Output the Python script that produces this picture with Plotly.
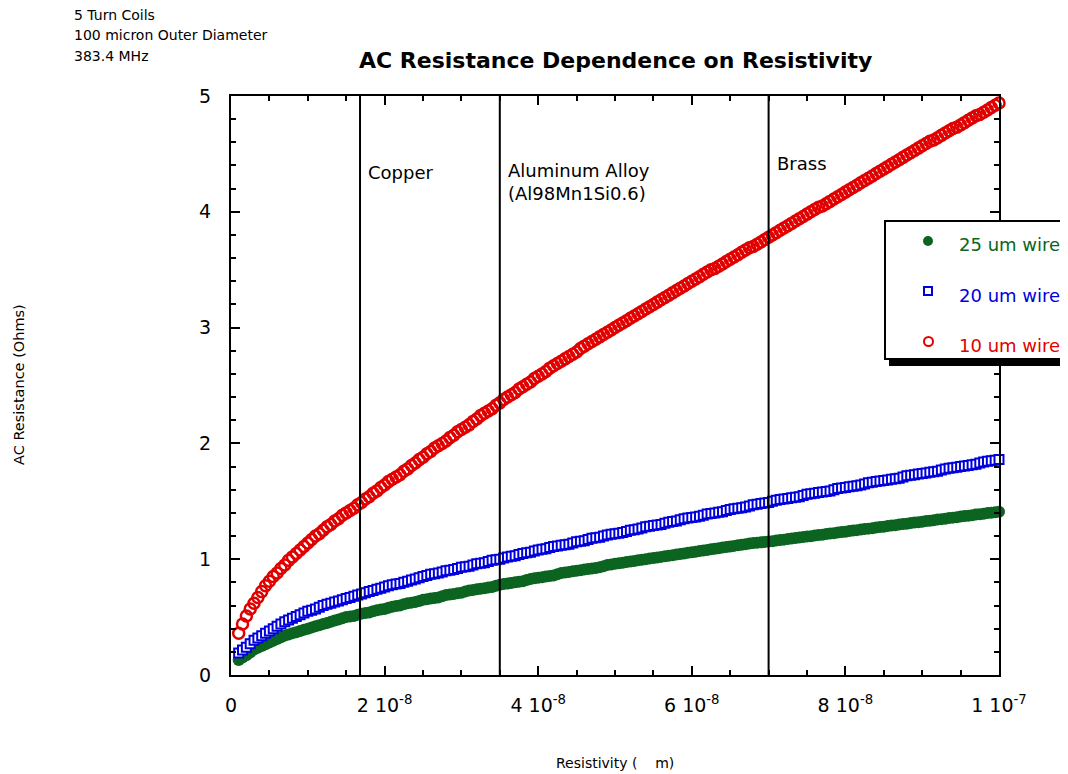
import plotly.graph_objects as go

# ---------------- data (resistivity in units of 1e-8 ohm*m, step 0.05 from 0.10 to 10.0) ----------------
resistivity_e8 = [round(0.10 + 0.05 * i, 2) for i in range(199)]

r_10um = [0.36, 0.44, 0.51, 0.57, 0.62, 0.67, 0.72, 0.77, 0.81, 0.85,
          0.88, 0.92, 0.95, 0.99, 1.02, 1.05, 1.08, 1.11, 1.14, 1.17,
          1.20, 1.22, 1.25, 1.28, 1.30, 1.33, 1.35, 1.38, 1.40, 1.42,
          1.44, 1.47, 1.49, 1.52, 1.54, 1.57, 1.59, 1.62, 1.64, 1.67,
          1.69, 1.71, 1.73, 1.76, 1.78, 1.81, 1.83, 1.86, 1.88, 1.91,
          1.93, 1.96, 1.98, 2.00, 2.02, 2.05, 2.07, 2.10, 2.12, 2.14,
          2.16, 2.19, 2.21, 2.24, 2.26, 2.28, 2.30, 2.33, 2.35, 2.38,
          2.40, 2.42, 2.44, 2.47, 2.49, 2.51, 2.53, 2.56, 2.58, 2.60,
          2.62, 2.65, 2.67, 2.69, 2.71, 2.73, 2.75, 2.77, 2.79, 2.82,
          2.84, 2.86, 2.88, 2.90, 2.92, 2.94, 2.96, 2.98, 3.00, 3.02,
          3.04, 3.06, 3.08, 3.10, 3.12, 3.14, 3.16, 3.18, 3.20, 3.22,
          3.24, 3.26, 3.28, 3.30, 3.32, 3.34, 3.36, 3.38, 3.40, 3.42,
          3.44, 3.46, 3.48, 3.50, 3.51, 3.53, 3.55, 3.57, 3.59, 3.61,
          3.63, 3.65, 3.67, 3.69, 3.70, 3.72, 3.74, 3.76, 3.78, 3.80,
          3.82, 3.84, 3.86, 3.88, 3.90, 3.92, 3.94, 3.96, 3.98, 4.00,
          4.02, 4.04, 4.05, 4.07, 4.09, 4.11, 4.13, 4.15, 4.17, 4.19,
          4.21, 4.23, 4.25, 4.27, 4.29, 4.31, 4.33, 4.35, 4.37, 4.39,
          4.41, 4.43, 4.45, 4.47, 4.49, 4.51, 4.53, 4.55, 4.57, 4.59,
          4.61, 4.62, 4.64, 4.66, 4.68, 4.70, 4.72, 4.73, 4.75, 4.77,
          4.79, 4.81, 4.83, 4.84, 4.86, 4.88, 4.90, 4.92, 4.94]

r_20um = [0.19, 0.215, 0.24, 0.27, 0.30, 0.32, 0.34, 0.36, 0.38, 0.40,
          0.42, 0.44, 0.46, 0.475, 0.49, 0.505, 0.52, 0.535, 0.55, 0.56,
          0.57, 0.585, 0.60, 0.61, 0.62, 0.63, 0.64, 0.65, 0.66, 0.67,
          0.68, 0.69, 0.70, 0.71, 0.72, 0.73, 0.74, 0.75, 0.76, 0.77,
          0.78, 0.785, 0.79, 0.80, 0.81, 0.82, 0.83, 0.84, 0.85, 0.86,
          0.87, 0.875, 0.88, 0.89, 0.90, 0.905, 0.91, 0.92, 0.93, 0.935,
          0.94, 0.95, 0.96, 0.965, 0.97, 0.98, 0.99, 0.995, 1.00, 1.01,
          1.02, 1.025, 1.03, 1.04, 1.05, 1.055, 1.06, 1.07, 1.08, 1.085,
          1.09, 1.10, 1.11, 1.115, 1.12, 1.125, 1.13, 1.14, 1.15, 1.155,
          1.16, 1.17, 1.18, 1.185, 1.19, 1.20, 1.21, 1.215, 1.22, 1.225,
          1.23, 1.24, 1.25, 1.255, 1.26, 1.27, 1.28, 1.285, 1.29, 1.295,
          1.30, 1.31, 1.32, 1.325, 1.33, 1.34, 1.35, 1.355, 1.36, 1.365,
          1.37, 1.38, 1.39, 1.395, 1.40, 1.405, 1.41, 1.42, 1.43, 1.435,
          1.44, 1.445, 1.45, 1.46, 1.47, 1.475, 1.48, 1.485, 1.49, 1.50,
          1.51, 1.515, 1.52, 1.525, 1.53, 1.535, 1.54, 1.55, 1.56, 1.565,
          1.57, 1.575, 1.58, 1.585, 1.59, 1.60, 1.61, 1.615, 1.62, 1.625,
          1.63, 1.635, 1.64, 1.65, 1.66, 1.665, 1.67, 1.675, 1.68, 1.685,
          1.69, 1.695, 1.70, 1.71, 1.72, 1.725, 1.73, 1.735, 1.74, 1.745,
          1.75, 1.755, 1.76, 1.77, 1.78, 1.785, 1.79, 1.795, 1.80, 1.805,
          1.81, 1.815, 1.82, 1.83, 1.84, 1.845, 1.85, 1.855, 1.86]

r_25um = [0.13, 0.15, 0.17, 0.195, 0.22, 0.235, 0.25, 0.265, 0.28, 0.295,
          0.31, 0.325, 0.34, 0.35, 0.36, 0.37, 0.38, 0.39, 0.40, 0.41,
          0.42, 0.43, 0.44, 0.45, 0.46, 0.47, 0.48, 0.49, 0.50, 0.505,
          0.51, 0.52, 0.53, 0.535, 0.54, 0.55, 0.56, 0.565, 0.57, 0.58,
          0.59, 0.595, 0.60, 0.61, 0.62, 0.625, 0.63, 0.64, 0.65, 0.655,
          0.66, 0.665, 0.67, 0.68, 0.69, 0.695, 0.70, 0.705, 0.71, 0.72,
          0.73, 0.735, 0.74, 0.745, 0.75, 0.755, 0.76, 0.77, 0.78, 0.785,
          0.79, 0.795, 0.80, 0.805, 0.81, 0.82, 0.83, 0.835, 0.84, 0.845,
          0.85, 0.855, 0.86, 0.87, 0.88, 0.885, 0.89, 0.895, 0.90, 0.905,
          0.91, 0.915, 0.92, 0.925, 0.93, 0.94, 0.95, 0.955, 0.96, 0.965,
          0.97, 0.975, 0.98, 0.985, 0.99, 0.995, 1.00, 1.005, 1.01, 1.015,
          1.02, 1.025, 1.03, 1.035, 1.04, 1.045, 1.05, 1.055, 1.06, 1.065,
          1.07, 1.075, 1.08, 1.085, 1.09, 1.095, 1.10, 1.105, 1.11, 1.115,
          1.12, 1.125, 1.13, 1.135, 1.14, 1.143, 1.146, 1.149, 1.152, 1.156,
          1.161, 1.165, 1.169, 1.174, 1.178, 1.182, 1.187, 1.191, 1.195, 1.199,
          1.204, 1.208, 1.212, 1.217, 1.221, 1.225, 1.230, 1.234, 1.238, 1.243,
          1.247, 1.251, 1.256, 1.260, 1.264, 1.268, 1.273, 1.277, 1.281, 1.286,
          1.290, 1.294, 1.299, 1.303, 1.307, 1.312, 1.316, 1.320, 1.324, 1.329,
          1.333, 1.337, 1.342, 1.346, 1.350, 1.355, 1.359, 1.363, 1.368, 1.372,
          1.376, 1.380, 1.385, 1.389, 1.393, 1.398, 1.402, 1.406, 1.41]

materials = ["Copper", "Aluminum Alloy<br>(Al98Mn1Si0.6)", "Brass"]
material_resistivity = [1.68e-8, 3.5e-8, 7.0e-8]

series_names = ["25 um wire", "20 um wire", "10 um wire"]
x_tick_vals = [0, 2e-8, 4e-8, 6e-8, 8e-8, 1e-7]
x_tick_text = ["0", "2 10<sup>-8</sup>", "4 10<sup>-8</sup>", "6 10<sup>-8</sup>",
               "8 10<sup>-8</sup>", "1 10<sup>-7</sup>"]
y_tick_vals = [0, 1, 2, 3, 4, 5]

info_lines = ["5 Turn Coils", "100 micron Outer Diameter", "383.4 MHz"]

# ---------------- layout geometry ----------------
W, H = 1068, 774
OFF = 8  # page body margin of the browser
# reference plot area (screen pixels): x 231..999, y 96..675
RL, RR, RT, RB = 231, 999, 96, 675
PW, PH = RR - RL, RB - RT
L = RL - OFF
T = RT - OFF
R = W - (RR - OFF)
B = H - (RB - OFF)

def px(x):
    return (x - RL) / PW

def py(y):
    return (RB - y) / PH

GREEN = "#0b6420"
BLUE = "#0000dc"
RED = "#e00000"
FONT = "DejaVu Sans"

x_vals = [v * 1e-8 for v in resistivity_e8]

fig = go.Figure()
fig.add_trace(go.Scatter(x=x_vals, y=r_25um, mode="markers", name=series_names[0],
                         marker=dict(symbol="circle", size=12, color=GREEN,
                                     line=dict(width=0)), cliponaxis=False))
fig.add_trace(go.Scatter(x=x_vals, y=r_20um, mode="markers", name=series_names[1],
                         marker=dict(symbol="square", size=9, color="white",
                                     line=dict(width=2, color=BLUE)), cliponaxis=False))
fig.add_trace(go.Scatter(x=x_vals, y=r_10um, mode="markers", name=series_names[2],
                         marker=dict(symbol="circle-open", size=11, color=RED,
                                     line=dict(width=2.5, color=RED)), cliponaxis=False))

shapes = []
annotations = []

# material vertical lines and labels
label_y = [172, 182, 163]
for name, rho, ly in zip(materials, material_resistivity, label_y):
    shapes.append(dict(type="line", xref="x", yref="paper", x0=rho, x1=rho, y0=0, y1=1,
                       line=dict(color="black", width=2), layer="above"))
    annotations.append(dict(text=name, xref="x", yref="paper", x=rho, y=py(ly),
                            xanchor="left", yanchor="middle", xshift=6, showarrow=False,
                            align="left", font=dict(family=FONT, size=18, color="black")))

# legend (manual, with drop shadow)
shapes.append(dict(type="rect", xref="paper", yref="paper", x0=px(889), x1=px(1090),
                   y0=py(366), y1=py(226), fillcolor="black", line=dict(width=0), layer="above"))
shapes.append(dict(type="rect", xref="paper", yref="paper", x0=px(885), x1=px(1090),
                   y0=py(359), y1=py(221), fillcolor="white",
                   line=dict(width=2, color="black"), layer="above"))
shapes.append(dict(type="circle", xref="paper", yref="paper", x0=px(923), x1=px(933),
                   y0=py(246), y1=py(236), fillcolor=GREEN, line=dict(width=0), layer="above"))
shapes.append(dict(type="rect", xref="paper", yref="paper", x0=px(924), x1=px(932),
                   y0=py(295), y1=py(287), fillcolor="white",
                   line=dict(width=2, color=BLUE), layer="above"))
shapes.append(dict(type="circle", xref="paper", yref="paper", x0=px(924), x1=px(933),
                   y0=py(346), y1=py(337), fillcolor="white",
                   line=dict(width=2, color=RED), layer="above"))
for name, col, ly in zip(series_names, [GREEN, BLUE, RED], [244, 295, 345]):
    annotations.append(dict(text=name, xref="paper", yref="paper", x=px(957), y=py(ly),
                            xanchor="left", yanchor="middle", showarrow=False,
                            font=dict(family=FONT, size=18, color=col)))

# title, axis titles, info text
annotations.append(dict(text="<b>AC Resistance Dependence on Resistivity</b>", xref="paper",
                        yref="paper", x=px(615), y=py(60), xanchor="center", yanchor="middle",
                        showarrow=False, font=dict(family=FONT, size=22, color="black")))
annotations.append(dict(text="Resistivity (\u00a0\u00a0\u00a0\u00a0m)", xref="paper", yref="paper",
                        x=px(615), y=py(763), xanchor="center", yanchor="middle", showarrow=False,
                        font=dict(family=FONT, size=14, color="black")))
annotations.append(dict(text="AC Resistance (Ohms)", xref="paper", yref="paper",
                        x=px(19), y=py(385), xanchor="center", yanchor="middle", showarrow=False,
                        textangle=-90, font=dict(family=FONT, size=14.5, color="black")))
for i, line in enumerate(info_lines):
    annotations.append(dict(text=line, xref="paper", yref="paper", x=px(72), y=py(15 + 20.5 * i),
                            xanchor="left", yanchor="middle", showarrow=False,
                            font=dict(family=FONT, size=14, color="black")))

axis_common = dict(showgrid=False, zeroline=False, showline=True, linecolor="black", linewidth=2,
                   mirror="allticks", ticks="inside", ticklen=9, tickwidth=2, tickcolor="black",
                   tickfont=dict(family=FONT, size=19, color="black"))

fig.update_layout(
    width=W, height=H, margin=dict(l=L, r=R, t=T, b=B, autoexpand=False),
    paper_bgcolor="white", plot_bgcolor="white", showlegend=False,
    shapes=shapes, annotations=annotations,
    xaxis=dict(range=[0, 1e-7], tickmode="array", tickvals=x_tick_vals, ticktext=x_tick_text,
               ticklabelstandoff=12,
               minor=dict(tick0=0, dtick=0.5e-8, ticks="inside", ticklen=5, tickwidth=2,
                          tickcolor="black"),
               **axis_common),
    yaxis=dict(range=[0, 5], tickmode="array", tickvals=y_tick_vals, ticklabelstandoff=14,
               minor=dict(tick0=0, dtick=0.2, ticks="inside", ticklen=5, tickwidth=2,
                          tickcolor="black"),
               **axis_common),
)

fig.write_html("out.html")
